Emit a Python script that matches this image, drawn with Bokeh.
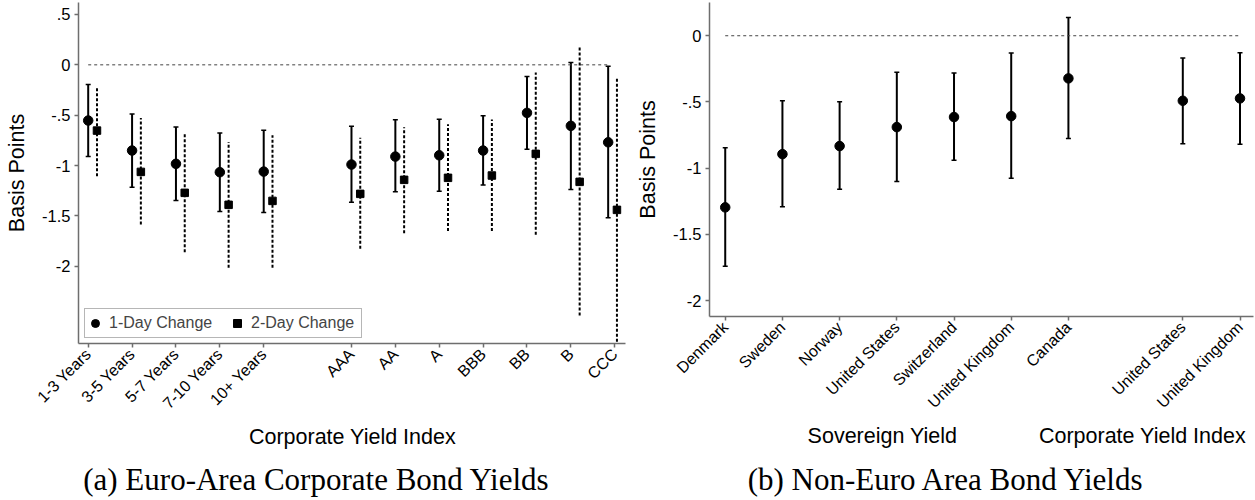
import math
from bokeh.plotting import figure
from bokeh.layouts import row, column
from bokeh.models import (Range1d, FixedTicker, Legend, LegendItem,
                          Whisker, TeeHead, ColumnDataSource)
from bokeh.core.properties import value
from bokeh.embed import file_html
from bokeh.resources import INLINE

SANS = "Liberation Sans"
SERIF = "Liberation Serif"
AXIS_GREY = "#6e6e6e"

# ---------------- data: panel (a) ----------------
left_cats = ["1-3 Years", "3-5 Years", "5-7 Years", "7-10 Years", "10+ Years",
             "AAA", "AA", "A", "BBB", "BB", "B", "CCC"]
left_ticks = [1, 2, 3, 4, 5, 7, 8, 9, 10, 11, 12, 13]
left_x = [1, 2, 3, 4, 5, 7, 8, 9, 10, 11, 12, 12.85]
one_day = [-0.553, -0.851, -0.983, -1.066, -1.060, -0.990, -0.911, -0.898, -0.851, -0.477, -0.606, -0.769]
one_lo = [-0.911, -1.215, -1.348, -1.457, -1.467, -1.364, -1.261, -1.255, -1.192, -0.838, -1.238, -1.519]
one_hi = [-0.196, -0.487, -0.616, -0.676, -0.649, -0.610, -0.546, -0.540, -0.506, -0.116, 0.023, -0.014]
two_day = [-0.653, -1.063, -1.271, -1.390, -1.351, -1.281, -1.142, -1.122, -1.099, -0.884, -1.162, -1.440]
two_lo = [-1.106, -1.586, -1.861, -2.016, -2.016, -1.827, -1.672, -1.649, -1.649, -1.688, -2.490, -2.800]
two_hi = [-0.212, -0.527, -0.676, -0.765, -0.699, -0.725, -0.619, -0.590, -0.543, -0.076, 0.175, -0.129]
two_day_shift = 0.2

# ---------------- data: panel (b) ----------------
right_cats = ["Denmark", "Sweden", "Norway", "United States", "Switzerland",
              "United Kingdom", "Canada", "United States", "United Kingdom"]
right_x = [1, 2, 3, 4, 5, 6, 7, 9, 10]
right_pt = [-1.296, -0.894, -0.833, -0.690, -0.614, -0.607, -0.322, -0.491, -0.473]
right_lo = [-1.741, -1.291, -1.160, -1.100, -0.941, -1.077, -0.775, -0.815, -0.820]
right_hi = [-0.845, -0.491, -0.498, -0.275, -0.282, -0.131, 0.138, -0.169, -0.128]

y_ticks_left = [0.5, 0, -0.5, -1, -1.5, -2]
y_ticks_right = [0, -0.5, -1, -1.5, -2]
y_tick_text = {0.5: ".5", 0: "0", -0.5: "-.5", -1: "-1", -1.5: "-1.5", -2: "-2"}

# texts below the panels (axis titles and sub-captions)
title_texts = ["Corporate Yield Index", "Sovereign Yield", "Corporate Yield Index"]
caption_texts = ["(a) Euro-Area Corporate Bond Yields", "(b) Non-Euro Area Bond Yields"]


def style(p, xticks, xlabels, yticks):
    p.xgrid.visible = False
    p.ygrid.visible = False
    p.outline_line_color = None
    p.frame_align = False
    for ax in (p.xaxis[0], p.yaxis[0]):
        ax.axis_line_color = AXIS_GREY
        ax.axis_line_width = 1.5
        ax.major_tick_line_color = AXIS_GREY
        ax.major_tick_line_width = 1.5
        ax.major_tick_in = 0
        ax.major_tick_out = 4
        ax.minor_tick_line_color = None
        ax.major_label_text_font = SANS
        ax.major_label_text_color = "black"
        ax.axis_label_text_font = SANS
        ax.axis_label_text_font_style = "normal"
        ax.axis_label_text_font_size = "21.5px"
        ax.axis_label_text_color = "black"
        ax.major_label_standoff = 4
    p.xaxis.ticker = FixedTicker(ticks=xticks)
    p.xaxis.major_label_overrides = {t: s for t, s in zip(xticks, xlabels)}
    p.xaxis.major_label_orientation = math.pi / 4
    p.xaxis.major_label_text_font_size = "16px"
    p.yaxis.ticker = FixedTicker(ticks=yticks)
    p.yaxis.major_label_overrides = {t: y_tick_text[t] for t in yticks}
    p.yaxis.major_label_text_font_size = "16.5px"
    p.yaxis.major_label_orientation = "horizontal"
    p.yaxis.axis_label = "Basis Points"
    p.yaxis.axis_label_standoff = 10


def whisker(src):
    return Whisker(base="x", lower="lo", upper="hi", source=src, dimension="height",
                   line_color="black", line_width=2,
                   lower_head=TeeHead(size=5, line_width=1.5, line_color="black"),
                   upper_head=TeeHead(size=5, line_width=1.5, line_color="black"))


# ---------------- panel (a) ----------------
p1 = figure(width=630, height=420, output_backend="svg", toolbar_location=None,
            title=None, min_border_left=78, min_border_right=5,
            min_border_top=2, min_border_bottom=77,
            x_range=Range1d(0.779, 13.245), y_range=Range1d(-2.767, 0.619))
style(p1, left_ticks, left_cats, y_ticks_left)

src1 = ColumnDataSource(dict(x=left_x, y=one_day, lo=one_lo, hi=one_hi,
                             x2=[v + two_day_shift for v in left_x],
                             y2=two_day, lo2=two_lo, hi2=two_hi))
p1.line(x=[left_x[0], left_x[-1]], y=[0, 0], line_dash="3 3", line_width=1, line_color="#444444")
p1.segment(x0="x2", y0="lo2", x1="x2", y1="hi2", source=src1,
           line_color="black", line_width=2, line_dash="3 2")
p1.add_layout(whisker(src1))
c1 = p1.scatter(x="x", y="y", source=src1, marker="circle", size=9.5,
                fill_color="black", line_color="black")
s1 = p1.scatter(x="x2", y="y2", source=src1, marker="square", size=7.5,
                fill_color="black", line_color="black")

legend = Legend(items=[LegendItem(label="1-Day Change", renderers=[c1]),
                       LegendItem(label="2-Day Change", renderers=[s1])],
                location=(6, 5), orientation="horizontal",
                padding=0, margin=0, spacing=8, glyph_width=20, glyph_height=28,
                label_height=28, label_width=110, label_standoff=4,
                label_text_font=SANS, label_text_font_size="16px",
                label_text_baseline="middle",
                border_line_color=AXIS_GREY, border_line_width=1.5,
                background_fill_color="white", background_fill_alpha=1)
p1.add_layout(legend)

# ---------------- panel (b) ----------------
p2 = figure(width=625, height=420, output_backend="svg", toolbar_location=None,
            title=None, min_border_left=79, min_border_right=2,
            min_border_top=2, min_border_bottom=104,
            x_range=Range1d(0.725, 10.236), y_range=Range1d(-2.120, 0.251))
style(p2, right_x, right_cats, y_ticks_right)

src2 = ColumnDataSource(dict(x=right_x, y=right_pt, lo=right_lo, hi=right_hi))
p2.line(x=[right_x[0], right_x[-1]], y=[0, 0], line_dash="3 3", line_width=1, line_color="#444444")
p2.add_layout(whisker(src2))
p2.scatter(x="x", y="y", source=src2, marker="circle", size=9.5,
           fill_color="black", line_color="black")

# ---------------- strip with axis titles and captions ----------------
strip = figure(width=1255, height=80, output_backend="svg", toolbar_location=None,
               title=None, min_border=0, x_axis_type=None, y_axis_type=None,
               x_range=Range1d(0, 1255), y_range=Range1d(500, 420))
strip.outline_line_color = None
strip.frame_align = False
strip.text(x=[352, 882, 1142], y=[436, 435, 435], text=title_texts,
           text_font=value(SANS), text_font_size="21.5px",
           text_align="center", text_baseline="middle", text_color="black")
strip.text(x=[316, 946], y=[479, 479], text=caption_texts,
           text_font=value(SERIF), text_font_size="31px",
           text_align="center", text_baseline="middle", text_color="black")

layout = column(row(p1, p2), strip)
open("out.html", "w").write(file_html(layout, INLINE))
